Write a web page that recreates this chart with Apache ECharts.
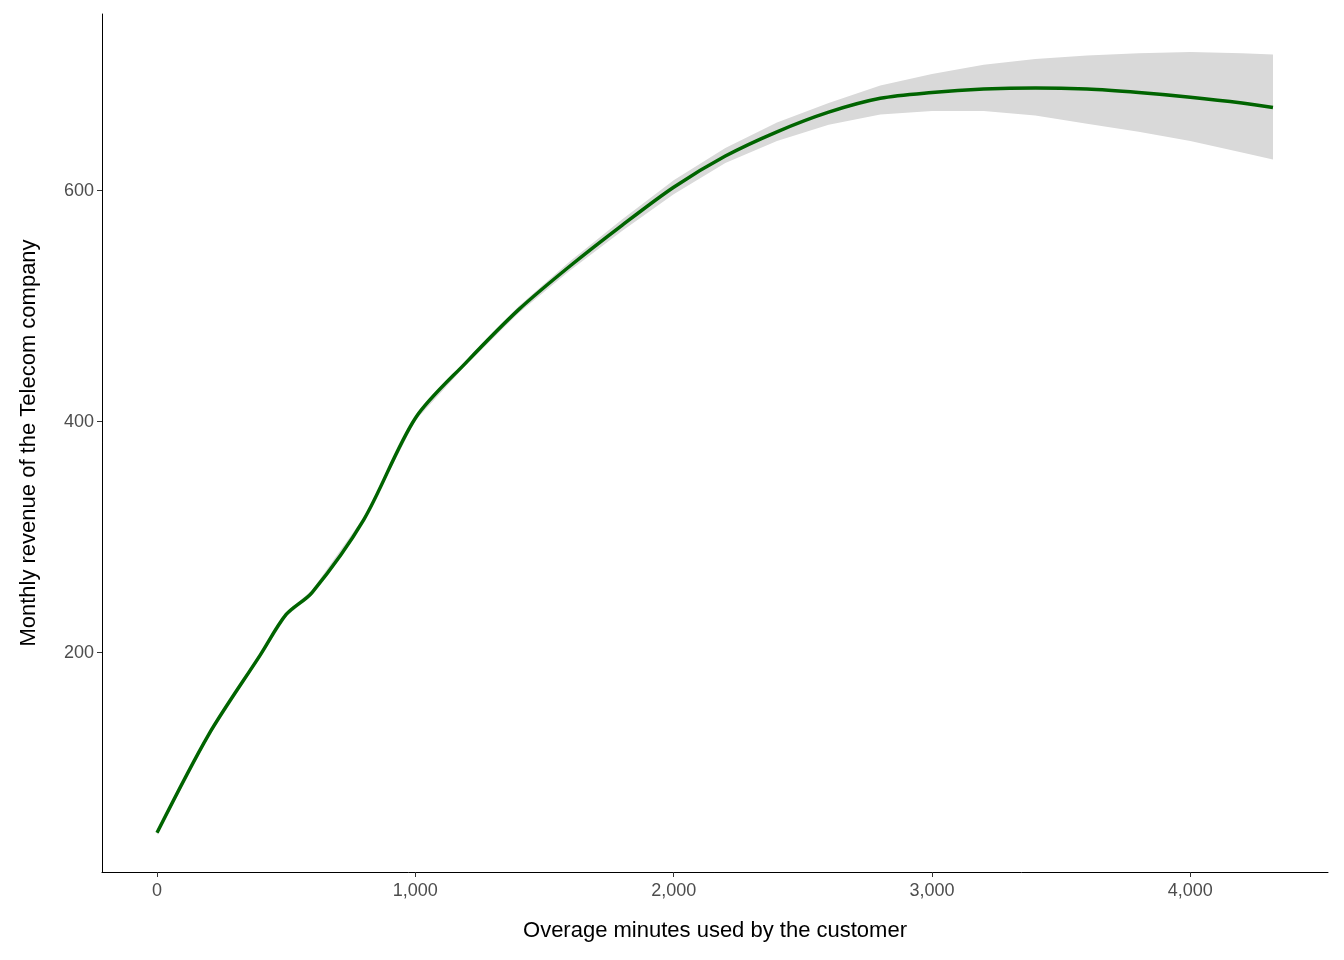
<!DOCTYPE html>
<html><head><meta charset="utf-8">
<script src="https://cdn.jsdelivr.net/npm/echarts@6/dist/echarts.min.js"></script>
<style>html,body{margin:0;padding:0;background:#fff}#c{width:1344px;height:960px}</style>
</head><body><div id="c"></div>
<script>
const xs =     [0, 200, 400, 500, 600, 800, 1000, 1200, 1400, 1600, 1800, 2000, 2200, 2400, 2600, 2800, 3000, 3200, 3400, 3600, 3800, 4000, 4200, 4320];
const fit =    [44, 129, 198, 233, 252, 315, 403, 452, 497, 535, 570, 603, 630, 651, 668, 680, 685, 688, 689, 688, 685, 681, 676, 672];
const lower =  [42, 127, 196, 231, 250, 313, 401, 450, 494, 531, 565, 597, 624, 643, 657, 666, 669, 669, 665, 658, 651, 643, 633, 627];
const upper =  [46, 131, 200, 235, 254, 317, 405, 454, 500, 539, 575, 609, 637, 659, 676, 691, 701, 709, 714, 717, 719, 720, 719, 718];
const xTicks = [0, 1000, 2000, 3000, 4000];
const yTicks = [200, 400, 600];

const chart = echarts.init(document.getElementById('c'));
const font = 'Liberation Sans, Arial, sans-serif';
chart.setOption({
  animation:false,
  grid:{left:102,right:16,top:14,bottom:88},
  xAxis:{type:'value',min:-213,max:4533,
    axisLine:{onZero:false,lineStyle:{color:'#000'}},
    axisTick:{customValues:xTicks,lineStyle:{color:'#333'}},
    axisLabel:{customValues:xTicks,color:'#4d4d4d',fontSize:18,fontFamily:font,margin:10},
    splitLine:{show:false},
    name:'Overage minutes used by the customer',nameLocation:'middle',nameGap:48,
    nameTextStyle:{color:'#000',fontSize:22,fontFamily:font}},
  yAxis:{type:'value',min:10,max:753,
    axisLine:{show:true,onZero:false,lineStyle:{color:'#000'}},
    axisTick:{show:true,customValues:yTicks,lineStyle:{color:'#333'}},
    axisLabel:{customValues:yTicks,color:'#4d4d4d',fontSize:18,fontFamily:font},
    splitLine:{show:false},
    name:'Monthly revenue of the Telecom company',nameLocation:'middle',nameGap:62,
    nameTextStyle:{color:'#000',fontSize:22,fontFamily:font}},
  series:[
    {type:'custom',data:[[0]],silent:true,
      renderItem:function(params,api){
        const pts=[];
        for(let i=0;i<xs.length;i++) pts.push(api.coord([xs[i],upper[i]]));
        for(let i=xs.length-1;i>=0;i--) pts.push(api.coord([xs[i],lower[i]]));
        return {type:'polygon',shape:{points:pts},style:{fill:'#d9d9d9'}};
      }},
    {type:'line',data:xs.map((x,i)=>[x,fit[i]]),symbol:'none',smooth:0.3,
      lineStyle:{color:'#006400',width:3.5},z:5}
  ]
});
</script></body></html>
